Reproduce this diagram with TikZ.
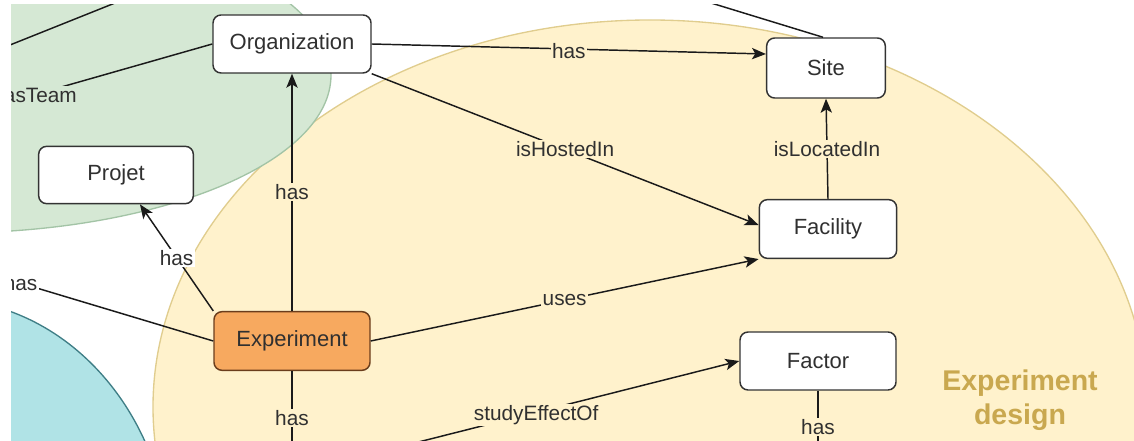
\documentclass[tikz,border=0pt]{standalone}
\usepackage{fontspec}
\setmainfont{Liberation Sans}
\usetikzlibrary{arrows.meta}
\definecolor{yfill}{HTML}{FFF2CC}
\definecolor{yline}{HTML}{E0CD8E}
\definecolor{gfill}{HTML}{D5E8D4}
\definecolor{gline}{HTML}{A3C4A6}
\definecolor{bfill}{HTML}{B0E3E6}
\definecolor{bline}{HTML}{3F7E86}
\definecolor{ofill}{HTML}{F7A95F}
\definecolor{oline}{HTML}{6A3D1C}
\definecolor{boxline}{HTML}{333333}
\definecolor{lnk}{HTML}{1A1A1A}
\definecolor{txt}{HTML}{303030}
\definecolor{gold}{HTML}{C9A84F}
\begin{document}
\begin{tikzpicture}[x=0.75pt,y=-0.75pt,
  box/.style={draw=boxline, line width=1.1pt, rounded corners=6pt, fill=white, text=txt,
    font=\fontsize{16.5}{19}\selectfont, minimum height=43.5pt, inner sep=0pt},
  conn/.style={draw=lnk, line width=1.1pt},
  arr/.style={conn, -{Stealth[length=10.5pt,width=8.5pt,inset=2.5pt]}},
  lbl/.style={font=\fontsize{15.6}{18}\selectfont, text=txt, inner sep=1pt, fill=yfill},
  lblw/.style={lbl, fill=white},
  lblg/.style={lbl, fill=gfill},
]
\useasboundingbox (0,0) rectangle (1134,441);
\begin{scope}
\clip (11,5) rectangle (1134,441);
% groups
\draw[fill=bfill, draw=bline, line width=1pt] (-60,560) ellipse [x radius=230, y radius=261];
\draw[fill=yfill, draw=yline, line width=1pt] (650,407) ellipse [x radius=497, y radius=387];
\draw[fill=gfill, draw=gline, line width=1pt] (-50,75) ellipse [x radius=381, y radius=158];
\node[font=\bfseries\fontsize{21.4}{25.5}\selectfont, text=gold, align=center] (edl) at (1020,400) {Experiment\\design};
% off-picture ends
\coordinate (offA) at (-20,57);
\coordinate (offB) at (160,-15);
\coordinate (offT) at (-100,133);
\coordinate (offL) at (-100,247);
\coordinate (offR) at (600,-31);
\coordinate (offE) at (292,480);
\coordinate (offF) at (818,480);
\coordinate (offS) at (268,480);
% nodes
\node[box, minimum width=118.5pt] (org) at (292,44) {Organization};
\node[box, minimum width=89pt, minimum height=45pt] (site) at (826,68) {Site};
\node[box, minimum width=116pt, minimum height=43pt] (proj) at (116,175) {Projet};
\node[box, minimum width=103pt, minimum height=44pt] (fac) at (828,229) {Facility};
\node[box, minimum width=117pt, minimum height=44pt, fill=ofill, draw=oline] (exp) at (292,341) {Experiment};
\node[box, minimum width=117pt] (fact) at (818,361) {Factor};
% connectors
\draw[conn] (offA) -- (offB);
\draw[conn] (offR) -- ([xshift=-2.25pt]site.north);
\draw[conn] (org.west) -- node[lblg, pos=0.569] {hasTeam} (offT);
\draw[arr] (org.east) -- node[lbl, yshift=-1.5pt] {has} ([yshift=10.5pt]site.west);
\draw[arr] (org.south east) -- node[lbl] {isHostedIn} ([yshift=3pt]fac.west);
\draw[arr] (fac.north) -- node[lbl] {isLocatedIn} (site.south);
\draw[arr] (exp.north) -- node[lbl] {has} (org.south);
\draw[arr] (exp.north west) -- node[lblw] {has} ([xshift=18pt]proj.south);
\draw[conn] (exp.west) -- node[lblw, pos=0.615] {has} (offL);
\draw[arr] (exp.east) -- node[lbl] {uses} (fac.south west);
\draw[conn] (exp.south) -- node[lbl, pos=0.43] {has} (offE);
\draw[arr] (offS) -- node[lbl, pos=0.569, yshift=-2pt] {studyEffectOf} (fact.west);
\draw[conn] (fact.south) -- node[lbl, pos=0.41] {has} (offF);
\end{scope}
\end{tikzpicture}
\end{document}
